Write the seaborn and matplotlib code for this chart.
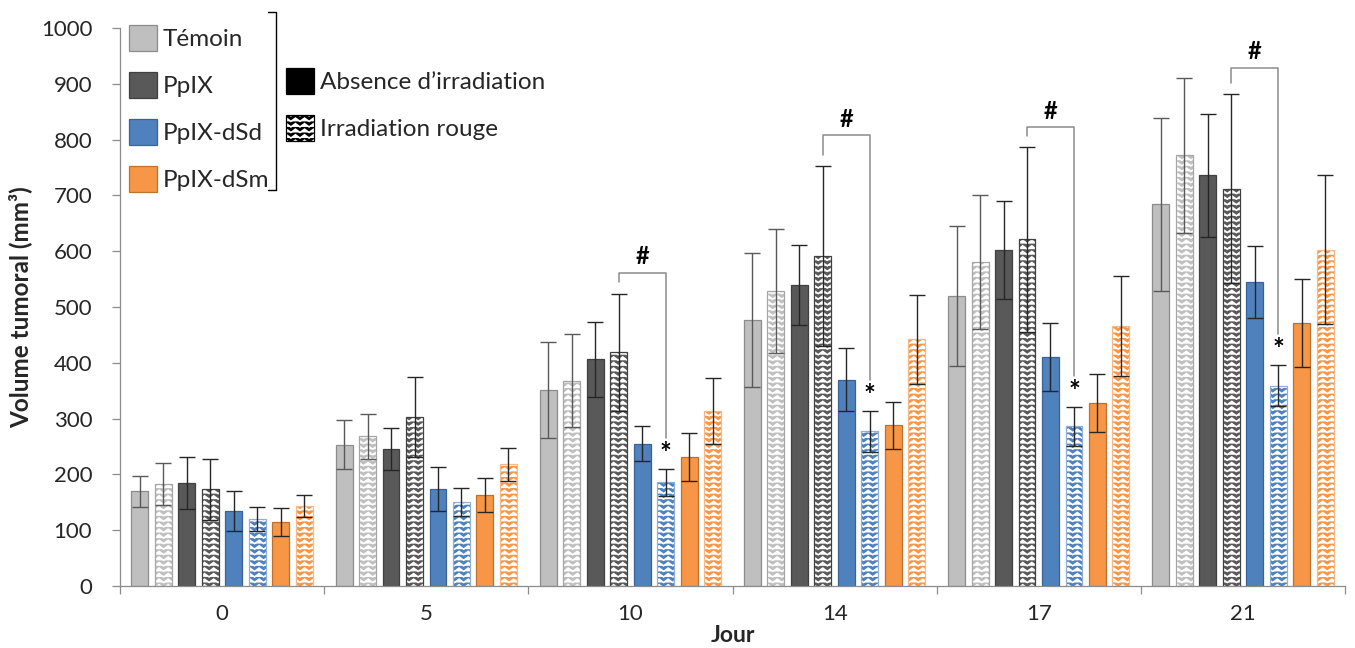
import warnings
warnings.filterwarnings("ignore")
import numpy as np
import pandas as pd
import matplotlib
matplotlib.use("Agg")
import matplotlib.pyplot as plt
import matplotlib.patches as mpatches
import matplotlib.hatch as mhatch
from matplotlib.path import Path
import seaborn as sns

# ---------------- data ----------------
days = ["0", "5", "10", "14", "17", "21"]
conditions = ["Témoin", "Témoin irr", "PpIX", "PpIX irr",
              "PpIX-dSd", "PpIX-dSd irr", "PpIX-dSm", "PpIX-dSm irr"]

temoin      = [170, 253, 352, 476, 520, 684]
temoin_irr  = [183, 268, 368, 528, 581, 772]
ppix        = [185, 245, 406, 540, 602, 736]
ppix_irr    = [173, 303, 419, 591, 621, 712]
dsd         = [134, 174, 255, 370, 410, 545]
dsd_irr     = [120, 150, 186, 277, 286, 359]
dsm         = [115, 163, 231, 288, 328, 472]
dsm_irr     = [143, 218, 313, 442, 466, 603]

err_temoin     = [28, 44, 86, 120, 125, 155]
err_temoin_irr = [37, 40, 83, 111, 120, 139]
err_ppix       = [47, 38, 67, 72, 88, 110]
err_ppix_irr   = [54, 72, 105, 161, 166, 169]
err_dsd        = [36, 40, 31, 57, 61, 65]
err_dsd_irr    = [22, 25, 24, 37, 35, 37]
err_dsm        = [25, 30, 43, 42, 52, 79]
err_dsm_irr    = [20, 29, 59, 80, 89, 133]

# significance brackets (#) between PpIX irr and PpIX-dSd irr, star on dSd irr
sig_days = ["10", "14", "17", "21"]
bracket_top = [561, 808, 822, 929]

values = [temoin, temoin_irr, ppix, ppix_irr, dsd, dsd_irr, dsm, dsm_irr]
errors = [err_temoin, err_temoin_irr, err_ppix, err_ppix_irr,
          err_dsd, err_dsd_irr, err_dsm, err_dsm_irr]

# ---------------- zigzag hatch ----------------
class ZigzagHatch(mhatch.HatchPatternBase):
    def __init__(self, hatch, density):
        self.num_rows = int(hatch.count('z') * density)
        self.n_pts = 2 * 11 + 1
        self.num_vertices = self.num_rows * self.n_pts

    def set_vertices_and_codes(self, vertices, codes):
        xs = np.linspace(0, 1, self.n_pts)
        amp = 0.6 / self.num_rows
        off = np.where(np.arange(self.n_pts) % 2 == 0, 0.0, amp)
        k = 0
        for i in range(self.num_rows):
            y0 = (i + 0.15) / self.num_rows
            vertices[k:k + self.n_pts, 0] = xs
            vertices[k:k + self.n_pts, 1] = y0 + off
            codes[k] = Path.MOVETO
            codes[k + 1:k + self.n_pts] = Path.LINETO
            k += self.n_pts

mhatch._hatch_types.append(ZigzagHatch)

def set_hatch_white(p):
    if hasattr(p, "set_hatchcolor"):
        try:
            p.set_hatchcolor("white")
            return
        except Exception:
            pass
    p._hatch_color = (1.0, 1.0, 1.0, 1.0)

# ---------------- style ----------------
sns.set_theme(style="white")
plt.rcParams["font.family"] = ["Lato", "DejaVu Sans"]
plt.rcParams["hatch.linewidth"] = 1.15

colors = ["#BFBFBF", "#BFBFBF", "#595959", "#595959",
          "#4F81BD", "#4F81BD", "#F79646", "#F79646"]
edge_colors = ["#8C8C8C", "#A6A6A6", "#404040", "#404040",
               "#3A6296", "#8FB0D8", "#C0702E", "#F8B98A"]

rows = []
for c, vals in zip(conditions, values):
    for d, v in zip(days, vals):
        rows.append({"Jour": d, "cond": c, "val": v})
df = pd.DataFrame(rows)

fig = plt.figure(figsize=(13.55, 6.48), dpi=100)
ax = fig.add_axes([120 / 1355, 1 - 586 / 648, 1225 / 1355, 558 / 648])

sns.barplot(data=df, x="Jour", y="val", hue="cond", order=days,
            hue_order=conditions, palette=colors, saturation=1,
            width=0.92, gap=0.28, errorbar=None, legend=False,
            linewidth=0.9, ax=ax)

bar_conts = list(ax.containers)
for i, cont in enumerate(bar_conts):
    xs = []
    hs = []
    for p in cont.patches:
        p.set_edgecolor(edge_colors[i])
        p.set_linewidth(0.9)
        if i % 2 == 1:
            p.set_hatch("zzz")
            set_hatch_white(p)
        xs.append(p.get_x() + p.get_width() / 2)
        hs.append(p.get_height())
    ecol = "#595959" if i in (0, 1) else "#262626"
    ax.errorbar(xs, hs, yerr=errors[i], fmt="none", ecolor=ecol,
                elinewidth=1.0, capsize=5.5, capthick=1.0, zorder=5)

# significance annotations
pp_irr = bar_conts[3].patches
dsd_irr_p = bar_conts[5].patches
for d, top in zip(sig_days, bracket_top):
    j = days.index(d)
    xl = pp_irr[j].get_x() + pp_irr[j].get_width() / 2
    xr = dsd_irr_p[j].get_x() + dsd_irr_p[j].get_width() / 2
    yl = ppix_irr[j] + err_ppix_irr[j] + 20
    ystar = dsd_irr[j] + err_dsd_irr[j]
    yr = ystar + 55
    ax.plot([xl, xl, xr, xr], [yl, top, top, yr], color="#8C8C8C", lw=1.1,
            zorder=6, clip_on=False)
    ax.text((xl + xr) / 2, top + 8, "#", ha="center", va="bottom",
            fontsize=17, fontweight="bold", color="black")
    ax.text(xr, ystar + 4, "*", ha="center", va="bottom",
            fontsize=20, fontweight="bold", color="black")

# axes styling
ax.set_ylim(0, 1000)
ax.set_xlim(-0.5, 5.5)
ax.set_yticks(np.arange(0, 1001, 100))
ax.set_xticks(np.arange(-0.5, 6, 1))
ax.set_xticklabels([])
ax.set_xticks(np.arange(0, 6), minor=True)
ax.set_xticklabels(days, minor=True)
ax.tick_params(axis="x", which="major", length=6, width=0.9, color="#8C8C8C",
               direction="out", bottom=True)
ax.tick_params(axis="x", which="minor", length=0, labelsize=16, pad=13)
ax.tick_params(axis="y", length=6, width=0.9, color="#8C8C8C", direction="out",
               left=True, labelsize=16, pad=14)
for s in ["top", "right"]:
    ax.spines[s].set_visible(False)
for s in ["left", "bottom"]:
    ax.spines[s].set_color("#8C8C8C")
    ax.spines[s].set_linewidth(0.9)
ax.grid(False)
ax.set_xlabel("Jour", fontsize=16.5, fontweight="bold", labelpad=1)
ax.set_ylabel("Volume tumoral (mm³)", fontsize=17.5, fontweight="bold", labelpad=6)

# legends
leg_fs = 17.5
h1 = [mpatches.Patch(facecolor=colors[k], edgecolor=edge_colors[k], linewidth=0.9)
      for k in (0, 2, 4, 6)]
leg1 = ax.legend(h1, ["Témoin", "PpIX", "PpIX-dSd", "PpIX-dSm"],
                 loc="upper left", bbox_to_anchor=(9 / 1225, (586 - 25) / 558),
                 bbox_transform=ax.transAxes, frameon=False, fontsize=leg_fs,
                 handlelength=1.15, handleheight=1.25, handletextpad=0.25,
                 labelspacing=0.88, borderpad=0, borderaxespad=0)
ax.add_artist(leg1)

hb = mpatches.Patch(facecolor="black", edgecolor="black", linewidth=0.9)
hh = mpatches.Patch(facecolor="black", edgecolor="black", linewidth=0.9, hatch="zzz")
set_hatch_white(hh)
leg2 = ax.legend([hb, hh], ["Absence d\u2019irradiation", "Irradiation rouge"],
                 loc="upper left", bbox_to_anchor=(166 / 1225, (586 - 68) / 558),
                 bbox_transform=ax.transAxes, frameon=False, fontsize=leg_fs,
                 handlelength=1.15, handleheight=1.25, handletextpad=0.25,
                 labelspacing=0.88, borderpad=0, borderaxespad=0)
for p in leg2.get_patches()[1:]:
    p.set_hatch("zzz")
    set_hatch_white(p)

# bracket grouping the colour legend
bx = 276 / 1355
yt = 1 - 12 / 648
yb = 1 - 190 / 648
tick = 8 / 1355
fig.add_artist(plt.Line2D([bx - tick, bx, bx, bx - tick], [yt, yt, yb, yb],
                          color="black", lw=1.0, transform=fig.transFigure))

fig.savefig("out.png", dpi=100)
